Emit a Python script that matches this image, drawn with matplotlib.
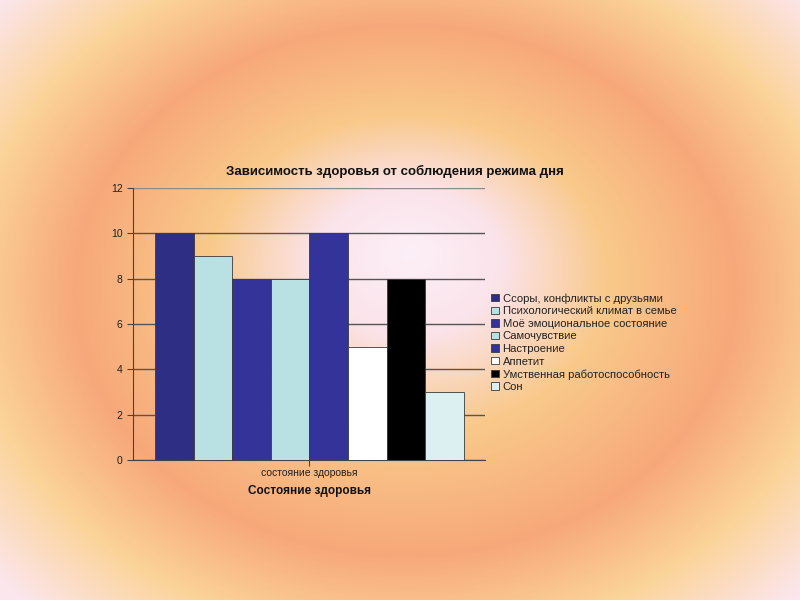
import numpy as np
import matplotlib.pyplot as plt
from matplotlib.colors import LinearSegmentedColormap

plt.rcParams['font.family'] = ['Liberation Sans', 'DejaVu Sans']

# данные
category = 'состояние здоровья'
labels = ['Ссоры, конфликты с друзьями', 'Психологический климат в семье',
          'Моё эмоциональное состояние', 'Самочувствие', 'Настроение',
          'Аппетит', 'Умственная работоспособность', 'Сон']
values = [10, 9, 8, 8, 10, 5, 8, 3]
colors = ['#2e2e85', '#b9e0e3', '#333399', '#b9e0e3', '#333399',
          '#ffffff', '#000000', '#dcf0f1']
yticks = [0, 2, 4, 6, 8, 10, 12]

fig = plt.figure(figsize=(8, 6), dpi=100)

# фон - радиальный градиент (центр светлый, кольцо оранжевое, углы светлые)
bg = fig.add_axes([0, 0, 1, 1])
xx, yy = np.meshgrid(np.arange(800), np.arange(600))
r_in = np.sqrt(((xx - 410) / 330.0) ** 2 + ((yy - 250) / 265.0) ** 2)
r_out = np.sqrt(((xx - 405) / 330.0) ** 2 + ((yy - 290) / 265.0) ** 2)
s = np.clip(r_out, 0, 1)
r = r_in * (1 - s) + r_out * s
cmap = LinearSegmentedColormap.from_list('bg', [
    (0.0, '#fdf0f8'), (0.17, '#fbe3ea'), (0.36, '#f9c98a'),
    (0.59, '#f7a87a'), (0.78, '#fbd49a'), (0.97, '#fce6ee'), (1.0, '#fce6ee')])
bg.imshow(np.clip(r / 1.7, 0, 1), cmap=cmap, vmin=0, vmax=1,
          extent=[0, 800, 600, 0], aspect='auto')
bg.set_xlim(0, 800)
bg.set_ylim(600, 0)
bg.axis('off')

ax = fig.add_axes([133 / 800, 1 - 460 / 600, 352 / 800, 272 / 600])
ax.patch.set_alpha(0)
w = 0.1
for i in range(len(values)):
    ax.bar((i - 3.5) * w, values[i], width=w, color=colors[i],
           edgecolor='#3a3a3a', linewidth=0.6, label=labels[i], zorder=3)

ax.set_xlim(-0.457, 0.455)
ax.set_ylim(0, 12)
ax.set_yticks(yticks)
ax.set_xticks([0])
ax.set_xticklabels([category], fontsize=7.5)
ax.tick_params(axis='y', labelsize=7.5, colors='#444444', length=4, width=0.8)
ax.tick_params(axis='x', length=4, width=0.8, colors='#444444', pad=2)
for lab in ax.get_xticklabels() + ax.get_yticklabels():
    lab.set_color('#222222')
ax.grid(axis='y', color='#555555', linewidth=1.0, zorder=0)
ax.get_ygridlines()[-1].set_color('#8c8c8c')
for sp in ['top', 'right']:
    ax.spines[sp].set_visible(False)
ax.spines['left'].set_color('#444444')
ax.spines['bottom'].set_color('#444444')

ax.set_title('Зависимость здоровья от соблюдения режима дня', fontsize=9.5,
             fontweight='bold', color='#111111', pad=9, x=0.745)
ax.set_xlabel('Состояние здоровья', fontsize=8.5, fontweight='bold',
              color='#111111', labelpad=5)

leg = ax.legend(loc='upper left', bbox_to_anchor=(1.005, 0.63), frameon=False,
                fontsize=8.1, handlelength=0.65, handleheight=0.65,
                handletextpad=0.35, labelspacing=0.23, borderaxespad=0)
for t in leg.get_texts():
    t.set_color('#222222')

fig.savefig('out.png', dpi=100)
